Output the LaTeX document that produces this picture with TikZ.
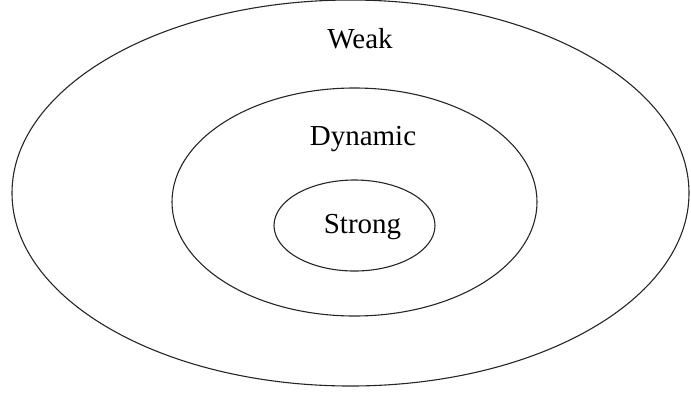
\documentclass[tikz,border=0pt]{standalone}
\usepackage{fontspec}
\setmainfont{Liberation Serif}
\usetikzlibrary{shapes.geometric}
\begin{document}
\begin{tikzpicture}[x=1pt,y=-1pt,
  ring/.style={ellipse, draw=black!85, line width=1.1pt, inner sep=0pt},
  lbl/.style={anchor=base, inner sep=0pt, font=\fontsize{29}{32}\selectfont}]
\useasboundingbox (0,0) rectangle (691,392);
\node[ring, minimum width=677pt, minimum height=386pt] (outer) at (350.5,193) {};
\node[ring, minimum width=365pt, minimum height=228pt] (middle) at (354.5,202) {};
\node[ring, minimum width=161pt, minimum height=91pt] (inner) at (354.5,225.5) {};
\node[lbl] (weak) at (360,48) {Weak};
\node[lbl] (dyn) at (363,145) {Dynamic};
\node[lbl] (strong) at (362.5,233) {Strong};
\end{tikzpicture}
\end{document}
